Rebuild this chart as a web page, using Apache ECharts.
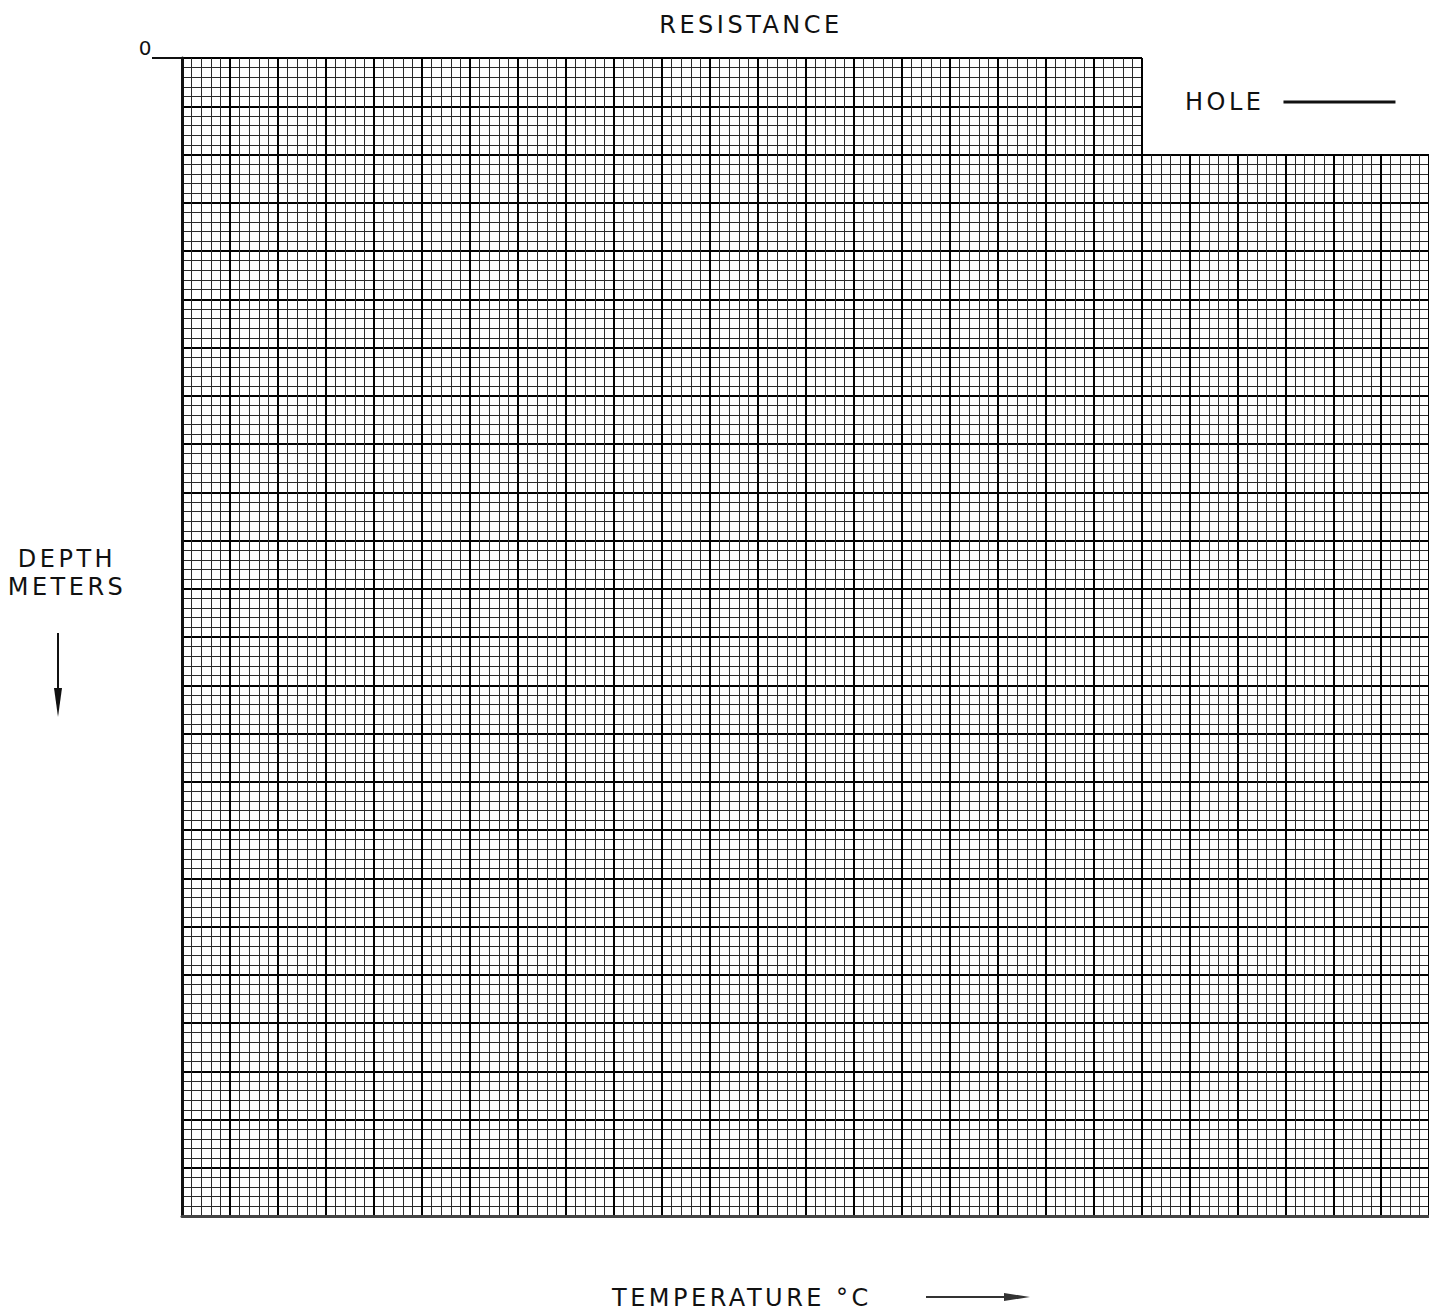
<!DOCTYPE html>
<html>
<head>
<meta charset="utf-8">
<script src="https://cdn.jsdelivr.net/npm/echarts@6/dist/echarts.min.js"></script>
<style>
html, body { margin: 0; padding: 0; background: #fff; }
#chart { width: 1429px; height: 1312px; }
#chart svg text { letter-spacing: 3.5px; }
</style>
</head>
<body>
<div id="chart"></div>
<script>
// ---- chart content (blank logging form) ----
const titleText = 'RESISTANCE';
const depthAxisName = ['DEPTH', 'METERS'];
const tempAxisName = 'TEMPERATURE °C';
const legendNames = ['HOLE'];
const holeValues = [];            // no curve plotted on the form
const depthTickValues = [0];
const depthTickLabels = ['0'];
// axis extents, in heavy-line cells (each split into 5 minor cells)
const leftPanelX = [0, 20];
const leftPanelY = [0, 24];
const rightPanelX = [20, 26];
const rightPanelY = [2, 24];

const FONT = '"DejaVu Sans", "Liberation Sans", sans-serif';
const INK = '#111111';

const chart = echarts.init(document.getElementById('chart'), null, { renderer: 'svg' });

const majorLine = { color: '#000000', width: 2 };
const minorLine = { color: '#2a2a2a', width: 1 };

function xAxisFor(gridIndex, ext) {
  return {
    type: 'value', gridIndex: gridIndex, min: ext[0], max: ext[1], interval: 1,
    position: 'bottom',
    axisLine: { show: true, onZero: false, lineStyle: { color: '#444', width: 3 } },
    axisTick: { show: false }, axisLabel: { show: false },
    minorTick: { show: false, splitNumber: 5 },
    splitLine: { show: true, lineStyle: majorLine },
    minorSplitLine: { show: true, lineStyle: minorLine }
  };
}
function yAxisFor(gridIndex, ext, withLeftEdge) {
  return {
    type: 'value', gridIndex: gridIndex, min: ext[0], max: ext[1], interval: 1,
    inverse: true, position: 'left',
    axisLine: { show: withLeftEdge, onZero: false, lineStyle: { color: '#111', width: 3 } },
    axisTick: { show: false }, axisLabel: { show: false },
    minorTick: { show: false, splitNumber: 5 },
    splitLine: { show: true, lineStyle: majorLine },
    minorSplitLine: { show: true, lineStyle: minorLine }
  };
}
// depth scale: only the "0" origin is marked on the form
const depthZeroAxis = {
  type: 'value', gridIndex: 0, min: leftPanelY[0], max: leftPanelY[1], inverse: true, position: 'left',
  axisLine: { show: false },
  splitLine: { show: false }, minorSplitLine: { show: false },
  axisTick: { show: true, customValues: depthTickValues, length: 30, lineStyle: { color: INK, width: 2 } },
  axisLabel: { show: true, customValues: depthTickValues, margin: 27,
               formatter: function (v) { const i = depthTickValues.indexOf(v); return i >= 0 ? depthTickLabels[i] : ''; },
               fontFamily: FONT, fontSize: 20, color: INK,
               align: 'right', verticalAlign: 'bottom', lineHeight: 20 }
};

const option = {
  animation: false,
  backgroundColor: '#ffffff',
  grid: [
    { left: 182, top: 58, width: 960, height: 1158, containLabel: false },
    { left: 1142, top: 154.5, width: 288, height: 1061.5, containLabel: false }
  ],
  xAxis: [ xAxisFor(0, leftPanelX), xAxisFor(1, rightPanelX) ],
  yAxis: [ yAxisFor(0, leftPanelY, true), yAxisFor(1, rightPanelY, false), depthZeroAxis ],
  legend: {
    data: legendNames.map(function (n) { return { name: n, icon: 'rect' }; }),
    left: 1199, top: 90, padding: 0, align: 'right', selectedMode: false,
    itemWidth: 112, itemHeight: 3,
    itemStyle: { borderWidth: 0 },
    textStyle: { fontFamily: FONT, fontSize: 24, color: INK, padding: [0, 14, 0, 0] }
  },
  series: [
    { name: legendNames[0], type: 'line', xAxisIndex: 1, yAxisIndex: 1,
      data: holeValues, color: INK, lineStyle: { color: INK, width: 2 }, showSymbol: false }
  ],
  graphic: [
    { type: 'text', x: 751, y: 25, silent: true,
      style: { text: titleText, fontFamily: FONT, fontSize: 24, fill: INK, align: 'center', verticalAlign: 'middle' } },
    { type: 'text', x: 67, y: 573, silent: true,
      style: { text: depthAxisName.join('\n'), fontFamily: FONT, fontSize: 24, lineHeight: 28, fill: INK, align: 'center', verticalAlign: 'middle' } },
    { type: 'text', x: 612, y: 1298, silent: true,
      style: { text: tempAxisName, fontFamily: FONT, fontSize: 24, fill: INK, align: 'left', verticalAlign: 'middle' } },
    { type: 'line', silent: true, shape: { x1: 58, y1: 633, x2: 58, y2: 692 }, style: { stroke: INK, lineWidth: 2 } },
    { type: 'polygon', silent: true, shape: { points: [[54, 688], [62, 688], [58, 717]] }, style: { fill: INK } },
    { type: 'line', silent: true, shape: { x1: 926, y1: 1297, x2: 1008, y2: 1297 }, style: { stroke: '#333', lineWidth: 2 } },
    { type: 'polygon', silent: true, shape: { points: [[1004, 1293], [1004, 1301], [1030, 1297]] }, style: { fill: '#333' } }
  ]
};
chart.setOption(option);
</script>
</body>
</html>
